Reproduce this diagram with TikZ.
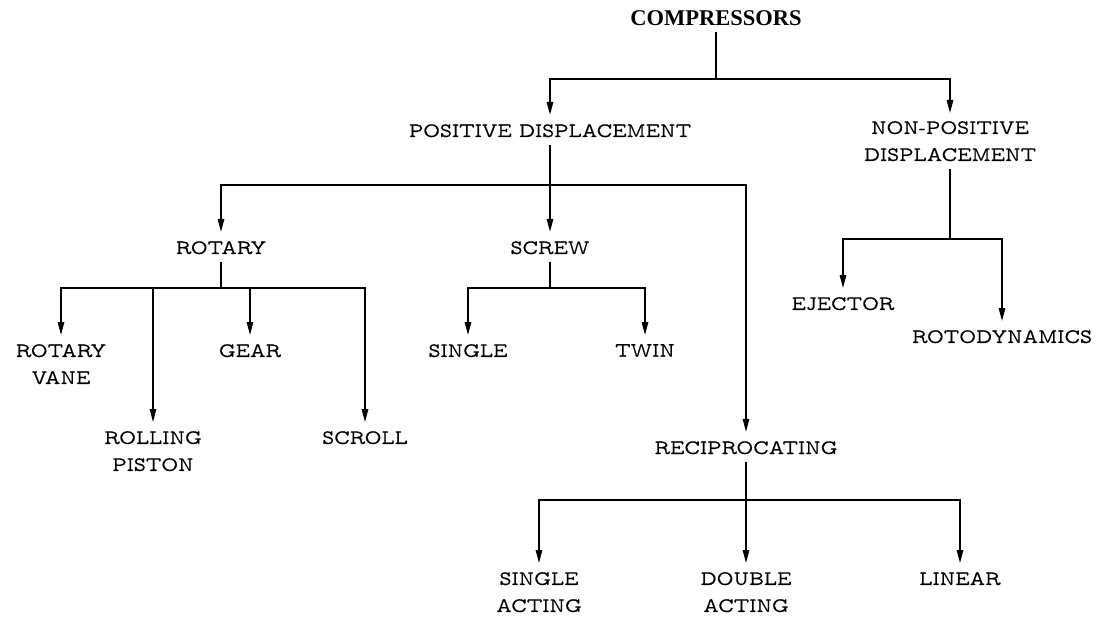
\documentclass[tikz,border=0pt]{standalone}
\usepackage{fontspec}
\newfontfamily\monof{lmmonoprop10-regular}[Extension=.otf,FakeBold=0.6]
\newfontfamily\serf{Liberation Serif}
\usetikzlibrary{arrows.meta}
\begin{document}
\begin{tikzpicture}[x=1pt,y=-1pt,
  lbl/.style={font=\monof\fontsize{20.5}{27}\selectfont, inner xsep=2pt, inner ysep=8pt, text height=14pt, text depth=0pt},
  leaf/.style={font=\monof\fontsize{20.5}{27}\selectfont, inner xsep=2pt, inner ysep=9pt, anchor=north, align=center},
  conn/.style={line width=1.4pt},
  arr/.style={conn, -{Triangle[length=13pt,width=6.5pt]}}]
\useasboundingbox[fill=white] (0,0) rectangle (1096,623);

% top
\node[font=\serf\bfseries\fontsize{22.5}{26}\selectfont, inner sep=6pt] (comp) at (716,18) {COMPRESSORS};
\coordinate (j0) at (716,79);
\node[lbl] (pd) at (550,130) {POSITIVE DISPLACEMENT};
\node[leaf, inner ysep=8pt] (npd) at (950,113) {NON-POSITIVE\\DISPLACEMENT};
\draw[conn] (comp.south) -- (j0);
\draw[arr] (j0) -| (pd.north);
\draw[arr] (j0) -| (npd.north);

% positive displacement
\coordinate (jP) at (550,185);
\node[lbl] (rot) at (221,247) {ROTARY};
\node[lbl] (scr) at (550,247) {SCREW};
\node[lbl] (rec) at (746,447) {RECIPROCATING};
\draw[conn] (pd.south) -- (jP);
\draw[arr] (jP) -| (rot.north);
\draw[arr] (jP) -- (scr.north);
\draw[arr] (jP) -| (rec.north);

% rotary
\coordinate (jR) at (221,288);
\node[leaf] (rv) at (61,335) {ROTARY\\VANE};
\node[leaf] (rp) at (153,422) {ROLLING\\PISTON};
\node[leaf] (gear) at (250,335) {GEAR};
\node[leaf] (scroll) at (365,422) {SCROLL};
\draw[conn] (rot.south) -- (jR);
\draw[arr] (jR) -| (rv.north);
\draw[arr] (jR) -| (rp.north);
\draw[arr] (jR) -| (gear.north);
\draw[arr] (jR) -| (scroll.north);

% screw
\coordinate (jS) at (550,288);
\node[leaf] (single) at (468,335) {SINGLE};
\node[leaf] (twin) at (645,335) {TWIN};
\draw[conn] (scr.south) -- (jS);
\draw[arr] (jS) -| (single.north);
\draw[arr] (jS) -| (twin.north);

% reciprocating
\coordinate (jC) at (746,500);
\node[leaf] (sa) at (539,563) {SINGLE\\ACTING};
\node[leaf] (da) at (746,563) {DOUBLE\\ACTING};
\node[leaf] (lin) at (960,563) {LINEAR};
\draw[conn] (rec.south) -- (jC);
\draw[arr] (jC) -| (sa.north);
\draw[arr] (jC) -- (da.north);
\draw[arr] (jC) -| (lin.north);

% non-positive
\coordinate (jN) at (950,239);
\node[leaf] (ej) at (843,288) {EJECTOR};
\node[leaf] (rd) at (1002,321) {ROTODYNAMICS};
\draw[conn] (npd.south) -- (jN);
\draw[arr] (jN) -| (ej.north);
\draw[arr] (jN) -| (rd.north);
\end{tikzpicture}
\end{document}
